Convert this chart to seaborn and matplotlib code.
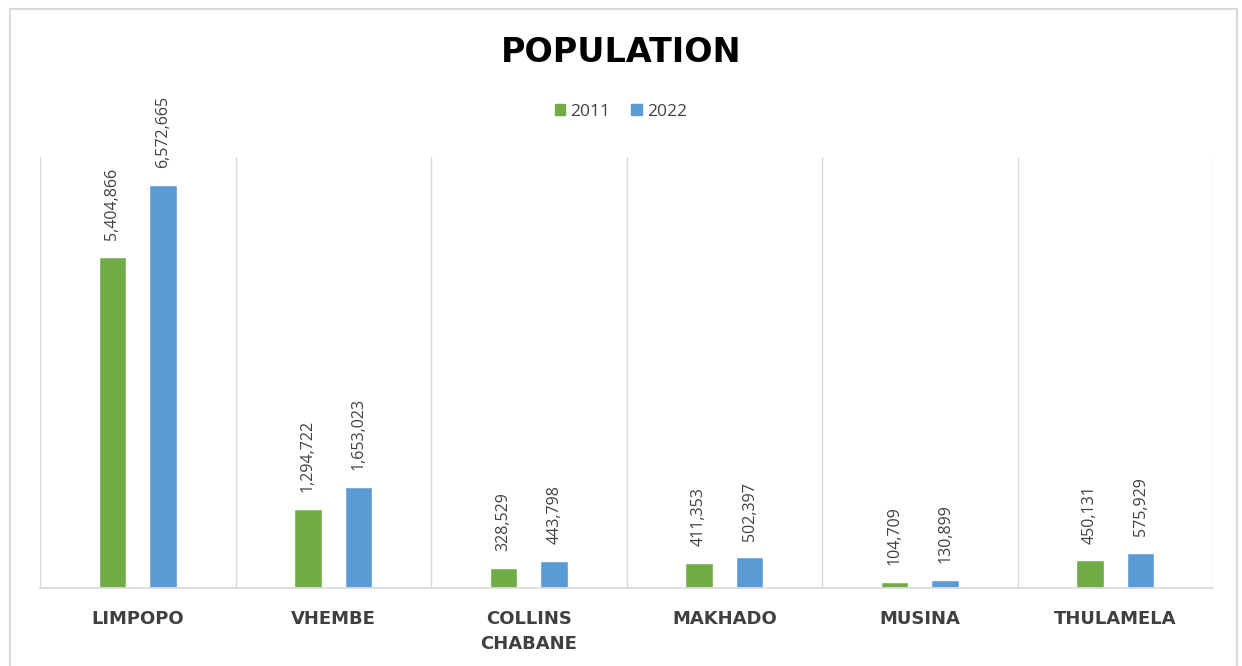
import matplotlib
matplotlib.use("Agg")
import matplotlib.pyplot as plt
import seaborn as sns
import pandas as pd
from matplotlib.patches import Rectangle

categories = ["LIMPOPO", "VHEMBE", "COLLINS\nCHABANE", "MAKHADO", "MUSINA", "THULAMELA"]
years = ["2011", "2022"]
pop_2011 = [5404866, 1294722, 328529, 411353, 104709, 450131]
pop_2022 = [6572665, 1653023, 443798, 502397, 130899, 575929]

df = pd.DataFrame({
    "area": categories * 2,
    "year": [years[0]] * len(categories) + [years[1]] * len(categories),
    "pop": pop_2011 + pop_2022,
})

sns.set_theme(style="white")
plt.rcParams["font.family"] = ["Open Sans", "DejaVu Sans"]

fig = plt.figure(figsize=(12.42, 6.66), dpi=100)
ax = fig.add_axes([40 / 1242, 1 - 588 / 666, (1213 - 40) / 1242, (588 - 157) / 666])

palette = {"2011": "#70AD47", "2022": "#5B9BD5"}
sns.barplot(data=df, x="area", y="pop", hue="year", order=categories, hue_order=years,
            palette=palette, width=0.52, gap=0.46, ax=ax, legend=False, saturation=1)

for cont in ax.containers:
    vals = cont.datavalues
    ax.bar_label(cont, labels=[f"{int(v):,}" for v in vals], rotation=90, padding=12,
                 fontsize=11.5, color="#404040")

ax.set_ylim(0, 7.03e6)
ax.set_xlim(-0.5, len(categories) - 0.5)
for i in range(len(categories) + 1):
    ax.axvline(i - 0.5, color="#D9D9D9", lw=1, zorder=0)
ax.set_yticks([])
ax.set_xlabel("")
ax.set_ylabel("")
for s in ["top", "left", "right"]:
    ax.spines[s].set_visible(False)
ax.spines["bottom"].set_color("#D9D9D9")
ax.tick_params(axis="x", length=0, pad=16)
ax.set_xticks(range(len(categories)))
ax.set_xticklabels(categories, fontsize=13, color="#404040", fontweight="bold",
                   family="DejaVu Sans", linespacing=1.45)

fig.text(0.5, 1 - 52 / 666, "POPULATION", ha="center", va="center", fontsize=24,
         fontweight="bold", color="#000000", family="DejaVu Sans")

# legend
handles = [Rectangle((0, 0), 1, 1, color=palette[y]) for y in years]
fig.legend(handles, years, loc="center", bbox_to_anchor=(0.5, 1 - 112 / 666), ncol=2,
           frameon=False, fontsize=12.5, handlelength=0.6, handleheight=0.6,
           handletextpad=0.3, columnspacing=1.2, labelcolor="#404040")

fig.patches.append(Rectangle((10 / 1242, -0.01), (1237 - 10) / 1242, 1 - 9 / 666 + 0.01,
                             transform=fig.transFigure, fill=False, edgecolor="#D9D9D9",
                             lw=1.5))

fig.savefig("out.png", dpi=100, facecolor="white")
